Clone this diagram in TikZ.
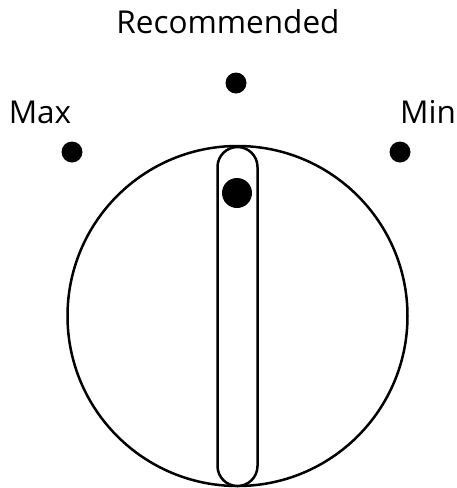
\documentclass[tikz,border=0pt]{standalone}
\usepackage{fontspec}
\setmainfont{Open Sans}
\usetikzlibrary{positioning}
\tikzstyle{setdot} = [circle, fill=black, inner sep=0pt, minimum size=21pt]
\tikzstyle{setlabel} = [inner sep=0pt, font=\fontsize{31.5}{33}\selectfont]
\tikzstyle{knob} = [circle, draw=black, line width=2.5pt, minimum size=340pt, inner sep=0pt]
\tikzstyle{slot} = [rectangle, rounded corners=20pt, draw=black, fill=white, line width=2.5pt, minimum width=40pt, minimum height=339pt, inner sep=0pt]

\begin{document}
\begin{tikzpicture}[x=1pt, y=-1pt]
\useasboundingbox (0,0) rectangle (457,488);
% dial and pointer slot
\node (knob) [knob] at (237.5,316) {};
\node (slot) [slot] at (237.5,316.5) {};
\node (pointer) [setdot, minimum size=30pt] at (237,193) {};

% settings
\node (rec) [setdot] at (236,83) {};
\node (max) [setdot] at (72,152) {};
\node (min) [setdot] at (400,152) {};

\node (reclabel) [setlabel] at (228,22) {Recommended};
\node (maxlabel) [setlabel] at (40,112) {Max};
\node (minlabel) [setlabel] at (428,112) {Min};
\end{tikzpicture}
\end{document}
